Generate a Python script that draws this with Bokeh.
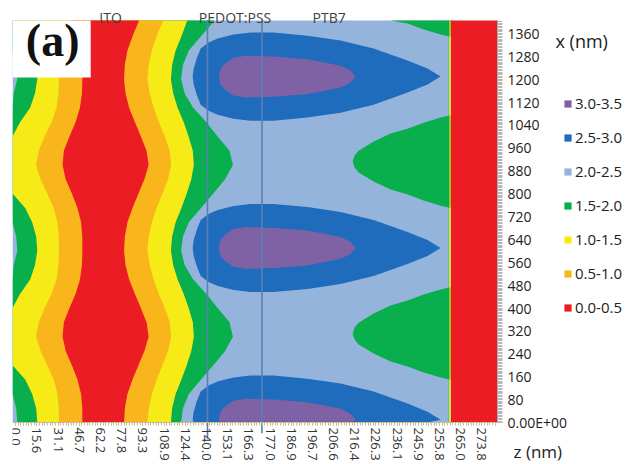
from bokeh.plotting import figure
from bokeh.models import (Range1d, FixedTicker, Label, BoxAnnotation,
                          Legend, LegendItem, AllLabels)
from bokeh.embed import file_html
from bokeh.resources import INLINE

# ---------------- data ----------------
# bottom axis: grid index -> z (nm) label
z_tick_labels = ["0.0", "15.6", "31.1", "46.7", "62.2", "77.8", "93.3", "108.9",
                 "124.4", "140.0", "153.1", "166.3", "177.0", "186.9", "196.7",
                 "206.6", "216.4", "226.3", "236.1", "245.9", "255.8", "265.0", "273.8"]
x_ticks_nm = [0, 80, 160, 240, 320, 400, 480, 560, 640, 720, 800, 880, 960,
              1040, 1120, 1200, 1280, 1360]

# rows (x, nm) at which the contour boundaries of the ITO / PEDOT side were read
x_rows = [0, 50, 100, 150, 200, 250, 300, 350, 400, 450, 500, 550, 600, 650, 700,
          750, 800, 850, 900, 950, 1000, 1050, 1100, 1150, 1200, 1250, 1300, 1350,
          1400, 1405]
# contour positions (in z grid-index units) for each row
c20_left = [0.075, 0.024, -0.15, -0.15, -0.15, -0.15, -0.15, -0.15, -0.15, -0.15,
            -0.15, -0.094, 0.075, 0.024, -0.15, -0.15, -0.15, -0.15, -0.15, -0.15,
            -0.15, -0.15, -0.15, -0.094, 0.075, 0.024, -0.15, -0.15, -0.15, -0.15]
c15_left = [1.019, 0.967, 0.778, 0.448, -0.15, -0.15, -0.15, -0.15, -0.15, 0.212,
            0.684, 0.910, 1.019, 0.967, 0.778, 0.448, -0.15, -0.15, -0.15, -0.15,
            -0.15, 0.212, 0.684, 0.910, 1.019, 0.967, 0.778, 0.448, -0.15, -0.15]
c10_left = [2.042, 2.033, 1.972, 1.792, 1.486, 1.179, 0.958, 1.085, 1.368, 1.698,
            1.925, 2.019, 2.042, 2.033, 1.972, 1.792, 1.486, 1.179, 0.958, 1.085,
            1.368, 1.698, 1.925, 2.019, 2.042, 2.033, 1.972, 1.792, 1.486, 1.448]
c05_left = [3.146, 3.142, 3.085, 2.915, 2.651, 2.358, 2.212, 2.274, 2.538, 2.830,
            3.033, 3.127, 3.146, 3.142, 3.085, 2.915, 2.651, 2.358, 2.212, 2.274,
            2.538, 2.830, 3.033, 3.127, 3.146, 3.142, 3.085, 2.915, 2.651, 2.623]
c05_right = [5.113, 5.151, 5.274, 5.514, 5.792, 6.075, 6.274, 6.175, 5.906, 5.623,
             5.354, 5.184, 5.113, 5.151, 5.274, 5.514, 5.792, 6.075, 6.274, 6.175,
             5.906, 5.623, 5.354, 5.184, 5.113, 5.151, 5.274, 5.514, 5.792, 5.821]
c10_right = [6.217, 6.278, 6.425, 6.651, 6.925, 7.189, 7.335, 7.269, 7.033, 6.755,
             6.509, 6.325, 6.217, 6.278, 6.425, 6.651, 6.925, 7.189, 7.335, 7.269,
             7.033, 6.755, 6.509, 6.325, 6.217, 6.278, 6.425, 6.651, 6.925, 6.953]
c15_right = [7.325, 7.382, 7.547, 7.821, 8.071, 8.288, 8.406, 8.358, 8.160, 7.925,
             7.642, 7.434, 7.325, 7.382, 7.547, 7.821, 8.071, 8.288, 8.406, 8.358,
             8.160, 7.925, 7.642, 7.434, 7.325, 7.382, 7.547, 7.821, 8.071, 8.094]
c20_right = [7.807, 7.892, 8.170, 8.745, 9.325, 9.882, 10.250, 10.094, 9.528, 8.991,
             8.377, 7.976, 7.807, 7.892, 8.170, 8.745, 9.325, 9.882, 10.250, 10.094,
             9.528, 8.991, 8.377, 7.976, 7.807, 7.892, 8.170, 8.745, 9.325, 9.377]

# high-field spots in PEDOT:PSS / PTB7 (centre rows, nm) and their half widths (nm)
hot_centers = [10, 610, 1209]
c25_u = [8.35, 8.40, 8.54, 8.73, 9.10, 9.53, 10.28, 11.08, 12.17, 13.77, 15.33,
         16.89, 18.49, 19.43, 20.05]
c25_half = [0, 28, 63, 98, 119, 133, 147, 154, 154, 143, 126, 98, 56, 28, 0]
c30_u = [9.58, 9.67, 9.86, 10.28, 10.85, 12.17, 13.77, 14.86, 15.33, 15.80, 16.04]
c30_half = [0, 28, 45, 66, 73, 70, 61, 45, 38, 21, 0]

# low-field lobes next to the back electrode
lobe_centers = [311, 912, 1510]
lobe_u = [15.90, 15.99, 16.18, 16.89, 17.69, 18.49, 19.25, 20.05, 20.47, 20.60]
lobe_half = [0, 21, 38, 70, 98, 115, 136, 154, 161, 163]

# thin transition strips and metal electrode (z grid-index where each starts)
right_strip_u = [20.42, 20.47, 20.51, 20.54]
interfaces_u = [9.05, 11.62]
interface_tail_nm = [-56, -38]
layer_names = ["ITO", "PEDOT:PSS", "PTB7"]
layer_label_u = [4.48, 10.35, 14.79]

legend_labels = ["3.0-3.5", "2.5-3.0", "2.0-2.5", "1.5-2.0", "1.0-1.5", "0.5-1.0", "0.0-0.5"]
PURPLE, BLUE, LBLUE, GREEN, YELLOW, ORANGE, RED = (
    "#7F62A5", "#1F6CBD", "#95B4DC", "#08AF4C", "#F6EB16", "#F8B51C", "#EC1C24")

# simulation window in plot units (z grid index, x nm)
U_MIN, U_MAX = -0.15, 22.74
X_MIN, X_MAX = x_rows[0], x_rows[-1]

# ---------------- figure ----------------
# the frame covers the whole page; axes are pinned to the data window edges
p = figure(width=627, height=464, output_backend="svg", toolbar_location=None,
           x_range=Range1d(U_MIN, 28.868), y_range=Range1d(-146.8, 1475.0),
           y_axis_location="right",
           min_border_left=12, min_border_right=0, min_border_top=0,
           min_border_bottom=0)
p.grid.visible = False
p.outline_line_color = None
p.background_fill_color = "white"
p.border_fill_color = "white"

r_lblue = p.quad(left=[U_MIN], right=[right_strip_u[0]], bottom=[X_MIN], top=[X_MAX],
                 fill_color=LBLUE, line_color=None)
r_green = p.harea(y=x_rows, x1=c20_left, x2=c20_right, fill_color=GREEN)
r_yellow = p.harea(y=x_rows, x1=c15_left, x2=c15_right, fill_color=YELLOW)
r_orange = p.harea(y=x_rows, x1=c10_left, x2=c10_right, fill_color=ORANGE)
r_red = p.harea(y=x_rows, x1=c05_left, x2=c05_right, fill_color=RED)


def outline(center, us, halves):
    """closed outline of a spot, limited to the simulation window"""
    xs = list(us) + list(us[::-1])
    ys = [min(center + h, X_MAX) for h in halves] + \
         [max(min(center - h, X_MAX), X_MIN) for h in halves[::-1]]
    return xs, ys


bx, by = zip(*[outline(c, c25_u, c25_half) for c in hot_centers])
r_blue = p.patches(xs=list(bx), ys=list(by), fill_color=BLUE, line_color=None)
px_, py_ = zip(*[outline(c, c30_u, c30_half) for c in hot_centers])
r_purple = p.patches(xs=list(px_), ys=list(py_), fill_color=PURPLE, line_color=None)
lx, ly = zip(*[outline(c, lobe_u, lobe_half) for c in lobe_centers])
p.patches(xs=list(lx), ys=list(ly), fill_color=GREEN, line_color=None)

p.quad(left=right_strip_u, right=right_strip_u[1:] + [U_MAX],
       bottom=X_MIN, top=X_MAX,
       fill_color=[GREEN, YELLOW, ORANGE, RED], line_color=None)

p.segment(x0=interfaces_u, y0=interface_tail_nm, x1=interfaces_u, y1=[X_MAX] * 2,
          line_color="#5B7EB6", line_width=1.6)

# ---------------- axes ----------------
xa = p.xaxis[0]
xa.fixed_location = X_MIN
xa.bounds = (U_MIN, U_MAX)
xa.ticker = FixedTicker(ticks=list(range(len(z_tick_labels))),
                        minor_ticks=[i / 8 for i in range(0, 8 * 22 + 6)])
xa.major_label_overrides = {i: lab for i, lab in enumerate(z_tick_labels)}
xa.major_label_orientation = "vertical"
xa.major_label_policy = AllLabels()
xa.major_label_text_font = "Open Sans"
xa.major_label_text_font_size = "13px"
xa.major_label_text_color = "#333333"
xa.major_label_standoff = 2
xa.major_tick_out = 3
xa.major_tick_in = 0
xa.minor_tick_out = 3
xa.minor_tick_in = 0
xa.major_tick_line_color = "#c4b89a"
xa.minor_tick_line_color = "#c4b89a"
xa.axis_line_color = "#c8c090"

ya = p.yaxis[0]
ya.fixed_location = U_MAX
ya.bounds = (X_MIN, X_MAX)
ya.ticker = FixedTicker(ticks=x_ticks_nm, minor_ticks=list(range(0, X_MAX, 5)))
ya.major_label_overrides = {0: "0.00E+00"}
ya.major_label_policy = AllLabels()
ya.major_label_text_font = "Open Sans"
ya.major_label_text_font_size = "14px"
ya.major_label_text_color = "#222222"
ya.major_label_standoff = 5
ya.major_tick_out = 5
ya.major_tick_in = 0
ya.minor_tick_out = 5
ya.minor_tick_in = 0
ya.major_tick_line_color = "#a8a8a8"
ya.minor_tick_line_color = "#b8b8b8"
ya.axis_line_color = "#a8a8a8"

# ---------------- annotations ----------------
p.add_layout(BoxAnnotation(left=U_MIN, right=3.54, bottom=1206, top=X_MAX,
                           fill_color="white", fill_alpha=1.0, line_color=None))
p.add_layout(Label(x=1.745, y=1335, text="(a)", text_font="Liberation Serif",
                   text_font_style="bold", text_font_size="46px", text_color="#111111",
                   text_align="center", text_baseline="middle"))

for name, u in zip(layer_names, layer_label_u):
    p.add_layout(Label(x=u, y=1414, text=name, text_font="Open Sans",
                       text_font_size="14px", text_color="#404040",
                       text_align="center", text_baseline="alphabetic"))

p.add_layout(Label(x=25.47, y=1335, text="x (nm)", text_font="Open Sans",
                   text_font_size="18px", text_color="#222222",
                   text_align="left", text_baseline="alphabetic"))
p.add_layout(Label(x=23.49, y=-103, text="z (nm)", text_font="Open Sans",
                   text_font_size="17px", text_color="#222222",
                   text_align="left", text_baseline="alphabetic"))

legend_renderers = [r_purple, r_blue, r_lblue, r_green, r_yellow, r_orange, r_red]
legend = Legend(items=[LegendItem(label=lab, renderers=[r])
                       for lab, r in zip(legend_labels, legend_renderers)],
                location=(551, 147), orientation="vertical",
                glyph_width=9, glyph_height=9, label_height=20, spacing=14,
                label_standoff=3, label_text_font="Open Sans",
                label_text_font_size="15px", label_text_color="#222222",
                padding=0, margin=0, border_line_color=None,
                background_fill_alpha=0)
p.add_layout(legend)

open("out.html", "w").write(file_html(p, INLINE))
